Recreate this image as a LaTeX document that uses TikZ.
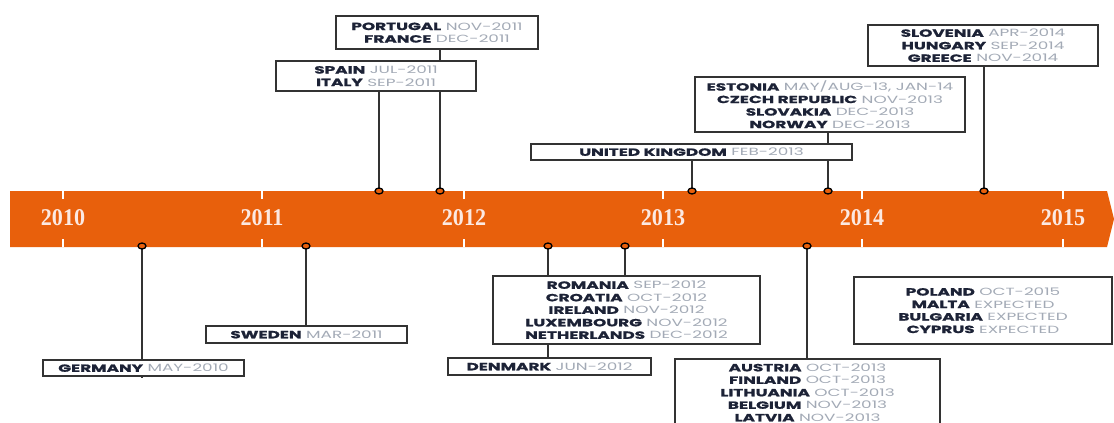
\documentclass[tikz,border=0pt]{standalone}
\usepackage{fontspec}
\setmainfont{Poppins}[FakeStretch=1.62, BoldFeatures={FakeStretch=1.62, FakeBold=1.2}]
\newfontfamily\yearfont{Liberation Serif}[FakeStretch=0.92]
\usetikzlibrary{shapes.geometric}
\definecolor{bandc}{HTML}{E8600C}
\definecolor{namec}{HTML}{1C2236}
\definecolor{datec}{HTML}{A3AAB6}
\definecolor{boxc}{HTML}{333333}
\definecolor{stemc}{HTML}{333333}
\definecolor{yearc}{HTML}{FCE9E2}
\newcommand\cn[2]{{\bfseries\color{namec}#1} {\color{datec}#2}}
\begin{document}
\begin{tikzpicture}[x=1pt,y=-1pt,
  box/.style={draw=boxc, line width=1.4pt, fill=white, inner sep=0pt, align=center,
    font=\fontsize{10.4}{12.5}\selectfont},
  stem/.style={draw=stemc, line width=1.8pt},
  pin/.style={ellipse, draw=black, line width=1.3pt, fill=bandc, minimum width=8pt, minimum height=6pt, inner sep=0pt},
  yr/.style={text=yearc, font=\yearfont\bfseries\fontsize{24}{24}\selectfont, inner sep=0pt},
  tick/.style={draw=white, line width=1.4pt}]
\useasboundingbox[fill=white] (0,0) rectangle (1114,423);
\begin{scope}
\clip (0,0) rectangle (1114,423);
% band
\fill[bandc] (10,191) -- (1107,191) -- (1114,219) -- (1107,247) -- (10,247) -- cycle;
\foreach \x/\y in {63/2010,262/2011,464/2012,663/2013,862/2014,1063/2015}{
  \draw[tick] (\x,191) -- (\x,199);
  \draw[tick] (\x,239) -- (\x,247);
  \node[yr] (y\y) at (\x,218) {\y};
}
% pin coordinates
\coordinate (pSp) at (379,191);
\coordinate (pPo) at (440,191);
\coordinate (pUk) at (692,191);
\coordinate (pEs) at (828,191);
\coordinate (pSl) at (984,191);
\coordinate (pGe) at (142,246);
\coordinate (pSw) at (306,246);
\coordinate (pRo) at (548,246);
\coordinate (pCr) at (625,246);
\coordinate (pAu) at (807,246);
% boxes that stems end on
\path (437,32.5) node[box, minimum width=202pt, minimum height=33pt] (portugal) {\cn{PORTUGAL}{NOV-2011}\\\cn{FRANCE}{DEC-2011}};
\path (983,45.5) node[box, minimum width=230pt, minimum height=41pt] (slovenia) {\cn{SLOVENIA}{APR-2014}\\\cn{HUNGARY}{SEP-2014}\\\cn{GREECE}{NOV-2014}};
\path (830,104.5) node[box, minimum width=270pt, minimum height=55pt] (estonia) {\cn{ESTONIA}{MAY/AUG-13, JAN-14}\\\cn{CZECH REPUBLIC}{NOV-2013}\\\cn{SLOVAKIA}{DEC-2013}\\\cn{NORWAY}{DEC-2013}};
\path (983,310.5) node[box, minimum width=258pt, minimum height=67pt] (poland) {\cn{POLAND}{OCT-2015}\\\cn{MALTA}{EXPECTED}\\\cn{BULGARIA}{EXPECTED}\\\cn{CYPRUS}{EXPECTED}};
% stems
\draw[stem] (pPo) -- (pPo |- portugal.south);
\draw[stem] (pSp) -- (379,91);
\draw[stem] (pEs) -- (pEs |- estonia.south);
\draw[stem] (pUk) -- (692,160);
\draw[stem] (pSl) -- (pSl |- slovenia.south);
\draw[stem] (pGe) -- (142,378);
\draw[stem] (pSw) -- (306,326);
\draw[stem] (pRo) -- (548,358);
\draw[stem] (pCr) -- (625,276);
\draw[stem] (pAu) -- (807,359);
% boxes covering stems
\path (376,76) node[box, minimum width=200pt, minimum height=30pt] (spain) {\cn{SPAIN}{JUL-2011}\\\cn{ITALY}{SEP-2011}};
\path (691.5,152) node[box, minimum width=321pt, minimum height=16pt] (uk) {\cn{UNITED KINGDOM}{FEB-2013}};
\path (143.5,368) node[box, minimum width=201pt, minimum height=16pt] (germany) {\cn{GERMANY}{MAY-2010}};
\path (306.5,334.5) node[box, minimum width=201pt, minimum height=17pt] (sweden) {\cn{SWEDEN}{MAR-2011}};
\path (626.5,310) node[box, minimum width=267pt, minimum height=68pt] (romania) {\cn{ROMANIA}{SEP-2012}\\\cn{CROATIA}{OCT-2012}\\\cn{IRELAND}{NOV-2012}\\\cn{LUXEMBOURG}{NOV-2012}\\\cn{NETHERLANDS}{DEC-2012}};
\path (549.5,366.5) node[box, minimum width=203pt, minimum height=17pt] (denmark) {\cn{DENMARK}{JUN-2012}};
\path (807.5,392.5) node[box, minimum width=265pt, minimum height=67pt] (austria) {\cn{AUSTRIA}{OCT-2013}\\\cn{FINLAND}{OCT-2013}\\\cn{LITHUANIA}{OCT-2013}\\\cn{BELGIUM}{NOV-2013}\\\cn{LATVIA}{NOV-2013}};
% pins
\foreach \p in {pSp,pPo,pUk,pEs,pSl,pGe,pSw,pRo,pCr,pAu}{
  \node[pin] at (\p) {};
}
\end{scope}
\end{tikzpicture}
\end{document}
